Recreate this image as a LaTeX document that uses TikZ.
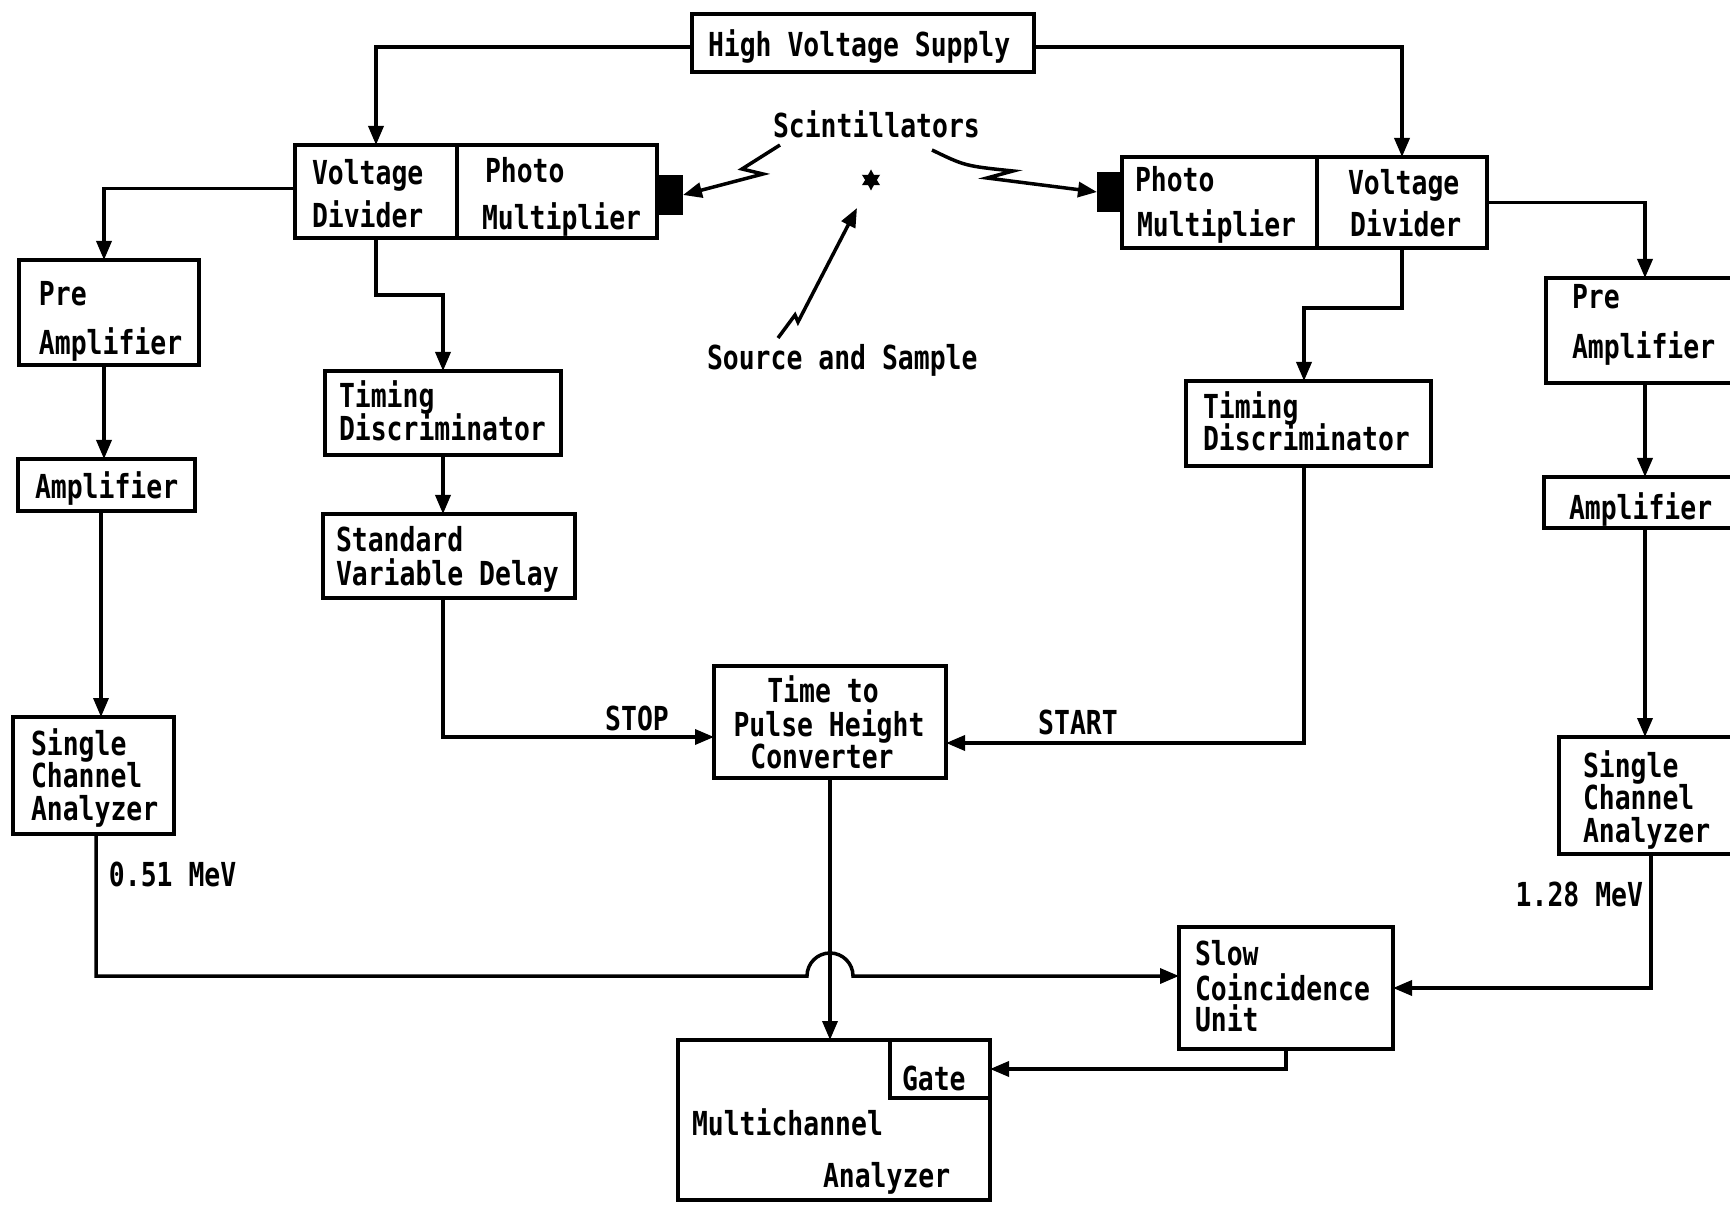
\documentclass[tikz,border=0pt]{standalone}
\usepackage{fontspec}
\newfontfamily\tw[FakeStretch=0.80]{DejaVu Sans Mono}
\usetikzlibrary{arrows.meta,calc,shapes.geometric}
\begin{document}
\begin{tikzpicture}[x=0.1mm,y=-0.1mm,
  box/.style={draw, line width=0.35mm, inner sep=0pt, outer sep=0pt},
  sz/.style 2 args={minimum width=#1mm, minimum height=#2mm},
  lbl/.style={inner sep=0pt, outer sep=0pt, anchor=base west, font=\tw\bfseries\fontsize{9.4pt}{11pt}\selectfont},
  clbl/.style={lbl, anchor=base},
  rlbl/.style={lbl, anchor=base east},
  wire/.style={line width=0.35mm, line join=miter},
  arr/.style={wire, -{Triangle[length=1.9mm,width=1.5mm]}},
  blob/.style={fill, inner sep=0pt, outer sep=0pt},
]
\useasboundingbox (0,0) rectangle (1730,1206);
\clip (0,0) rectangle (1730,1206);

% ---------- boxes ----------
\node[box, sz={34.2}{5.8}] (hvs) at (863,43) {};
\node[box, sz={16.2}{9.3}] (lvd) at (376,191.5) {};
\node[box, sz={20.0}{9.3}] (lpm) at (557,191.5) {};
\node[blob, sz={2.5}{4.0}] (lblk) at (670.5,195) {};
\node[blob, sz={2.5}{4.0}] (rblk) at (1109.5,192) {};
\node[box, sz={19.5}{9.1}] (rpm) at (1219.5,202.5) {};
\node[box, sz={17.0}{9.1}] (rvd) at (1402,202.5) {};
\node[box, sz={18.0}{10.5}] (lpre) at (109,312.5) {};
\node[box, sz={17.7}{5.2}] (lamp) at (106.5,485) {};
\node[box, sz={16.1}{11.7}] (lsca) at (93.5,775.5) {};
\node[box, sz={23.6}{8.4}] (ltd) at (443,413) {};
\node[box, sz={25.2}{8.4}] (svd) at (449,556) {};
\node[box, sz={23.2}{11.2}] (tphc) at (830,722) {};
\node[box, sz={24.5}{8.5}] (rtd) at (1308.5,423.5) {};
\node[box, sz={21.4}{10.5}] (rpre) at (1653,330.5) {};
\node[box, sz={21.6}{5.1}] (ramp) at (1652,502.5) {};
\node[box, sz={20.1}{11.7}] (rsca) at (1659.5,795.5) {};
\node[box, sz={21.4}{12.2}] (scu) at (1286,988) {};
\node[box, sz={31.2}{16.0}] (mca) at (834,1120) {};
\node[box, sz={10.0}{5.8}] (gate) at (940,1069) {};
\node[star, star points=6, star point ratio=1.8, fill, inner sep=0pt, minimum size=2.1mm] (src) at (871,180) {};

% ---------- texts ----------
\node[lbl] (t1) at (708,57) {High Voltage Supply};
\node[lbl] (t2) at (312,185) {Voltage};
\node[lbl] (t3) at (312,228) {Divider};
\node[lbl] (t4) at (485,183) {Photo};
\node[lbl] (t5) at (482,230) {Multiplier};
\node[lbl] (t6) at (1135,192) {Photo};
\node[lbl] (t7) at (1137,237) {Multiplier};
\node[lbl] (t8) at (1348,195) {Voltage};
\node[lbl] (t9) at (1350,237) {Divider};
\node[lbl] (t10) at (773,138) {Scintillators};
\node[lbl] (t11) at (707,370) {Source and Sample};
\node[lbl] (t12) at (39,306) {Pre};
\node[lbl] (t13) at (39,355) {Amplifier};
\node[lbl] (t14) at (35,499) {Amplifier};
\node[lbl] (t15) at (31,755) {Single};
\node[lbl] (t16) at (31,787) {Channel};
\node[lbl] (t17) at (31,820) {Analyzer};
\node[lbl] (t18) at (109,886) {0.51 MeV};
\node[lbl] (t19) at (339,408) {Timing};
\node[lbl] (t20) at (339,441) {Discriminator};
\node[lbl] (t21) at (336,552) {Standard};
\node[lbl] (t22) at (336,585) {Variable Delay};
\node[clbl] (t23) at (823,703) {Time to};
\node[clbl] (t24) at (829,736) {Pulse Height};
\node[clbl] (t25) at (822,768) {Converter};
\node[clbl] (t26) at (637,730) {STOP};
\node[clbl] (t27) at (1078,735) {START};
\node[lbl] (t28) at (1203,419) {Timing};
\node[lbl] (t29) at (1203,451) {Discriminator};
\node[lbl] (t30) at (1572,309) {Pre};
\node[lbl] (t31) at (1572,359) {Amplifier};
\node[lbl] (t32) at (1569,520) {Amplifier};
\node[lbl] (t33) at (1583,777) {Single};
\node[lbl] (t34) at (1583,809) {Channel};
\node[lbl] (t35) at (1583,842) {Analyzer};
\node[rlbl] (t36) at (1643,906) {1.28 MeV};
\node[lbl] (t37) at (1195,965) {Slow};
\node[lbl] (t38) at (1195,1000) {Coincidence};
\node[lbl] (t39) at (1195,1031) {Unit};
\node[lbl] (t40) at (902,1090) {Gate};
\node[lbl] (t41) at (692,1135) {Multichannel};
\node[lbl] (t42) at (823,1187) {Analyzer};

% ---------- helper coordinates ----------
\coordinate (xL) at (104,0);
\coordinate (xLb) at (101,0);
\coordinate (xLc) at (96,0);
\coordinate (kL) at (0,295);
\coordinate (kR) at (0,308);
\coordinate (xRt) at (1304,0);
\coordinate (xR) at (1645,0);
\coordinate (xRb) at (1651,0);
\coordinate (kH) at (0,976);
\coordinate (s1a) at (780,145);
\coordinate (s1b) at (742,169);
\coordinate (s1c) at (763,174);
\coordinate (s2a) at (932,150);
\coordinate (s2b) at (1013,171);
\coordinate (s2c) at (987,178);
\coordinate (s3a) at (778,338);
\coordinate (s3b) at (795,315);
\coordinate (s3c) at (798,322);
\coordinate (s3d) at (857,208);

% ---------- connectors ----------
\draw[arr] ($(hvs.west)+(0,4)$) -| (lvd.north);
\draw[arr] ($(hvs.east)+(0,4)$) -| (rvd.north);
\draw[arr] ($(lvd.west)+(0,-3)$) -| (lpre.north -| xL);
\draw[arr] (lpre.south -| xL) -- (lamp.north -| xL);
\draw[arr] (lamp.south -| xLb) -- (lsca.north -| xLb);
\draw[arr] (lvd.south) -- (lvd.south |- kL) -| (ltd.north);
\draw[arr] (ltd.south) -- (ltd.south |- svd.north);
\draw[arr] (svd.south -| ltd.south) |- ($(tphc.west)+(0,15)$);
\draw[arr] (rvd.south) -- (rvd.south |- kR) -| (rtd.north -| xRt);
\draw[arr] (rtd.south -| xRt) |- ($(tphc.east)+(0,21)$);
\draw[arr] (tphc.south) -- (tphc.south |- mca.north);
\draw[arr] (rvd.east) -| (rpre.north -| xR);
\draw[arr] (rpre.south -| xR) -- (ramp.north -| xR);
\draw[arr] (ramp.south -| xR) -- (rsca.north -| xR);
\draw[arr] (rsca.south -| xRb) |- (scu.east);
\draw[arr] (lsca.south -| xLc) |- ($(tphc.south |- kH)+(-23,0)$)
   arc[start angle=180, end angle=0, radius=2.3mm] -- (scu.west |- kH);
\draw[arr] (scu.south) |- (gate.east);
\draw[arr] (s1a) -- (s1b) -- (s1c) -- (lblk.east);
\draw[arr] (s2a) .. controls (965,166) .. (s2b) -- (s2c) -- (rblk.west);
\draw[arr] (s3a) -- (s3b) -- (s3c) -- (s3d);
\end{tikzpicture}
\end{document}
